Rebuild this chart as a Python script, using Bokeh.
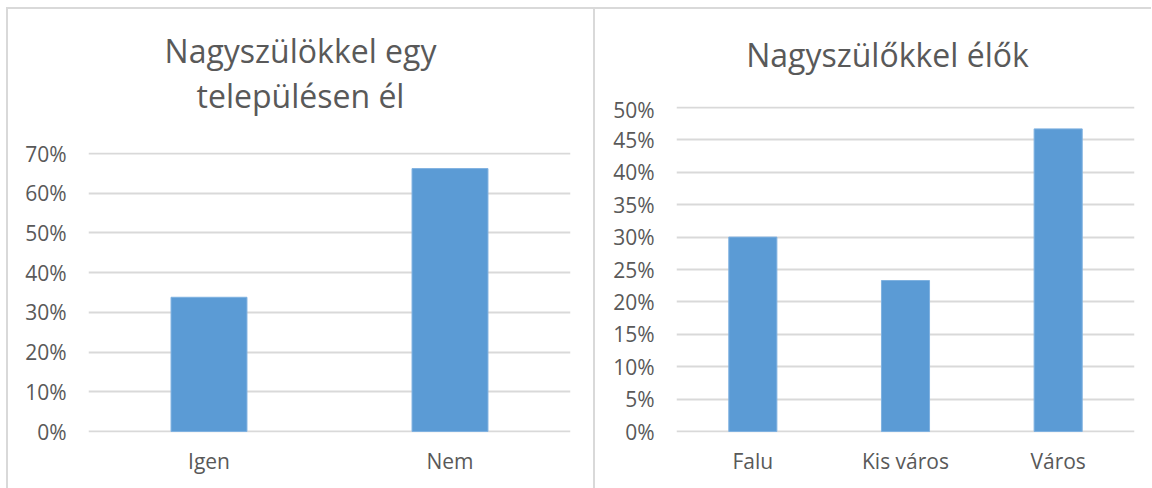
from bokeh.plotting import figure
from bokeh.layouts import row, column
from bokeh.models import Range1d, FactorRange, FixedTicker, NumeralTickFormatter, Div, Spacer
from bokeh.embed import file_html
from bokeh.resources import INLINE

# ---- data ----
cats_left = ["Igen", "Nem"]
vals_left = [0.338, 0.662]
ticks_left = [0.0, 0.1, 0.2, 0.3, 0.4, 0.5, 0.6, 0.7]
title_left = ["Nagyszülökkel egy", "településen él"]

cats_right = ["Falu", "Kis város", "Város"]
vals_right = [0.300, 0.233, 0.467]
ticks_right = [0.0, 0.05, 0.10, 0.15, 0.20, 0.25, 0.30, 0.35, 0.40, 0.45, 0.50]
title_right = ["Nagyszülőkkel élők"]

FONT = "Open Sans"
TXT = "#595959"
GRID = "#d9d9d9"
BAR = "#5b9bd5"
BORDER = "2px solid #d9d9d9"


def make_fig(cats, vals, ticks, ymax, width, height, bl, br, bt, bb, styles):
    d = ymax / ((height - bt - bb) - 2)
    p = figure(x_range=FactorRange(*cats), y_range=Range1d(-d, ymax + d),
               width=width, height=height, output_backend="svg", toolbar_location=None,
               min_border_left=bl, min_border_right=br, min_border_top=bt, min_border_bottom=bb,
               background_fill_color="white", border_fill_color="white", outline_line_color=None)
    p.vbar(x=cats, top=vals, width=0.315, fill_color=BAR, line_color="#7fb1e0", line_width=1)
    p.xgrid.grid_line_color = None
    p.ygrid.grid_line_color = GRID
    p.ygrid.grid_line_width = 2
    p.yaxis.ticker = FixedTicker(ticks=ticks)
    p.yaxis.formatter = NumeralTickFormatter(format="0%")
    for ax in (p.xaxis[0], p.yaxis[0]):
        ax.axis_line_color = None
        ax.major_tick_line_color = None
        ax.minor_tick_line_color = None
        ax.major_tick_out = 0
        ax.major_tick_in = 0
        ax.minor_tick_out = 0
        ax.major_label_text_font = FONT
        ax.major_label_text_font_size = "21px"
        ax.major_label_text_color = TXT
    p.yaxis.major_label_standoff = 22
    p.xaxis.major_label_standoff = 14
    p.styles = styles
    return p


def make_title(lines, width, inner_width, height, pad_top, pad_left, styles):
    html = ("<div style=\"font-family:'Open Sans';font-size:32px;color:%s;text-align:center;"
            "line-height:45px;padding-top:%dpx;padding-left:%dpx;white-space:nowrap;"
            "width:%dpx;box-sizing:border-box;margin:0\">%s</div>"
            % (TXT, pad_top, pad_left, inner_width, "<br>".join(lines)))
    return Div(text=html, width=width, height=height, styles=styles)


# left block: x 6..595, y 7..488
div_l = make_title(title_left, 589, 585, 118, 19, 0,
                   {"border-top": BORDER, "border-left": BORDER, "border-right": BORDER,
                    "box-sizing": "border-box", "margin": "0", "padding": "0"})
fig_l = make_fig(cats_left, vals_left, ticks_left, 0.7, 589, 363, 80, 27, 27, 56,
                 {"border-left": BORDER, "border-right": BORDER})

# right block: x 595..1151, y 7..488
div_r = make_title(title_right, 556, 556, 88, 23, 29,
                   {"border-top": BORDER, "box-sizing": "border-box", "margin": "0", "padding": "0"})
fig_r = make_fig(cats_right, vals_right, ticks_right, 0.5, 556, 393, 81, 17, 11, 56, {})

layout = column(Spacer(height=7),
                row(Spacer(width=6), column(div_l, fig_l, spacing=0), column(div_r, fig_r, spacing=0), spacing=0),
                spacing=0)
open("out.html", "w").write(file_html(layout, INLINE))
